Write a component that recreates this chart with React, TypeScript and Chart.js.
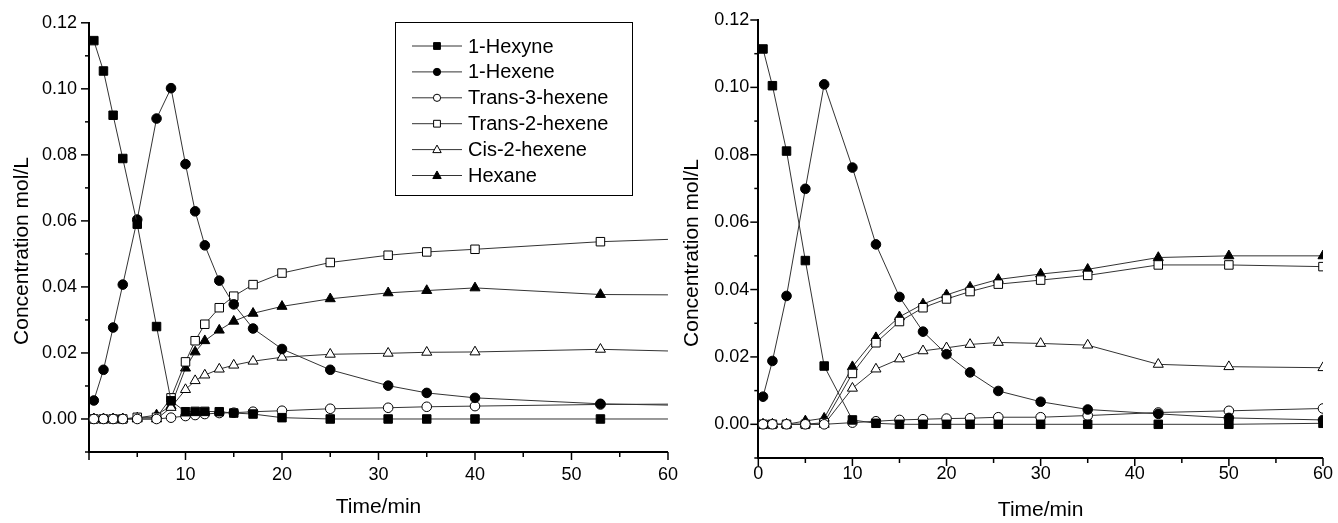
import React, { useEffect, useRef } from 'react';
import { Chart, registerables } from 'chart.js';

Chart.register(...registerables);

const FONT = '"Liberation Sans", Arial, sans-serif';

const seriesNames = ['1-Hexyne', '1-Hexene', 'Trans-3-hexene', 'Trans-2-hexene', 'Cis-2-hexene', 'Hexane'];
const pointStyles = ['rect', 'circle', 'circle', 'rect', 'triangle', 'triangle'];
const filledMarkers = [true, true, false, false, false, true];
const markerRadii = [6, 4.8, 4.8, 6, 5.8, 5.8];

// Left panel
const timeA = [0.5, 1.5, 2.5, 3.5, 5, 7, 8.5, 10, 11, 12, 13.5, 15, 17, 20, 25, 31, 35, 40, 53, 60];
const hexyneA = [0.1146, 0.1054, 0.092, 0.0789, 0.059, 0.028, 0.0055, 0.0022, 0.0023, 0.0023, 0.0022, 0.0018, 0.0015, 0.0004, 0, 0, 0, 0, 0, 0];
const hexeneA = [0.0056, 0.0149, 0.0277, 0.0407, 0.0604, 0.091, 0.1002, 0.0772, 0.0629, 0.0526, 0.0419, 0.0347, 0.0274, 0.0212, 0.0149, 0.0101, 0.0079, 0.0064, 0.0046, 0.0042];
const trans3A = [0, 0, 0, 0, 0, 0, 0.0004, 0.0009, 0.0012, 0.0015, 0.0018, 0.0019, 0.0022, 0.0025, 0.0031, 0.0034, 0.0037, 0.0039, 0.0044, 0.0045];
const trans2A = [0, 0, 0, 0, 0.0005, 0.0005, 0.0064, 0.0173, 0.0237, 0.0287, 0.0337, 0.0372, 0.0407, 0.0442, 0.0474, 0.0496, 0.0506, 0.0514, 0.0537, 0.0544];
const cis2A = [0, 0, 0, 0, 0, 0, 0.0035, 0.0089, 0.0116, 0.0133, 0.0151, 0.0163, 0.0175, 0.0187, 0.0196, 0.0199, 0.0202, 0.0203, 0.0211, 0.0206];
const hexaneA = [0, 0, 0, 0, 0.0003, 0.0012, 0.004, 0.0154, 0.0203, 0.0237, 0.0269, 0.0296, 0.032, 0.0341, 0.0364, 0.0382, 0.0389, 0.0397, 0.0377, 0.0376];

// Right panel
const timeB = [0.5, 1.5, 3, 5, 7, 10, 12.5, 15, 17.5, 20, 22.5, 25.5, 30, 35, 42.5, 50, 60];
const hexyneB = [0.1114, 0.1005, 0.0811, 0.0486, 0.0173, 0.0013, 0.0003, 0, 0, 0, 0, 0, 0, 0, 0, 0, 0.0003];
const hexeneB = [0.0082, 0.0188, 0.0381, 0.0699, 0.1009, 0.0762, 0.0534, 0.0378, 0.0275, 0.0208, 0.0154, 0.0099, 0.0067, 0.0044, 0.0031, 0.0019, 0.0013];
const trans3B = [0, 0, 0, 0, 0, 0.0005, 0.0009, 0.0013, 0.0015, 0.0017, 0.0018, 0.0021, 0.0021, 0.0026, 0.0035, 0.004, 0.0047];
const trans2B = [0, 0, 0, 0, 0.0005, 0.0151, 0.0242, 0.0305, 0.0346, 0.0372, 0.0394, 0.0416, 0.0428, 0.0442, 0.0473, 0.0473, 0.0468];
const cis2B = [0, 0, 0, 0, 0, 0.0107, 0.0164, 0.0194, 0.0218, 0.0227, 0.0237, 0.0243, 0.024, 0.0235, 0.0178, 0.0171, 0.0168];
const hexaneB = [0, 0, 0, 0.001, 0.0018, 0.0171, 0.0257, 0.0319, 0.0357, 0.0384, 0.0407, 0.043, 0.0446, 0.046, 0.0495, 0.05, 0.05];

const yTickValues = [0, 0.02, 0.04, 0.06, 0.08, 0.1, 0.12];
const xTicksA = [10, 20, 30, 40, 50, 60];
const xTicksB = [0, 10, 20, 30, 40, 50, 60];
const xTitle = 'Time/min';
const yTitle = 'Concentration mol/L';

function drawMarker(ctx: CanvasRenderingContext2D, style: string, x: number, y: number, r: number, fill: boolean) {
  ctx.beginPath();
  if (style === 'rect') {
    ctx.rect(x - r, y - r, 2 * r, 2 * r);
  } else if (style === 'circle') {
    ctx.arc(x, y, r, 0, Math.PI * 2);
  } else {
    const h = r * 1.8;
    ctx.moveTo(x, y - h * 0.6);
    ctx.lineTo(x + r, y + h * 0.4);
    ctx.lineTo(x - r, y + h * 0.4);
    ctx.closePath();
  }
  ctx.fillStyle = fill ? '#000' : '#fff';
  ctx.fill();
  ctx.lineWidth = 1;
  ctx.strokeStyle = '#000';
  ctx.stroke();
}

function makeDecor(p: any) {
  return {
    id: 'decor',
    afterDraw(chart: any) {
      const { ctx, chartArea, scales } = chart;
      const xs = scales.x;
      const ys = scales.y;
      ctx.save();
      ctx.strokeStyle = '#000';
      ctx.lineWidth = 1.5;
      // y ticks
      for (let k = -1; k <= 12; k++) {
        const py = ys.getPixelForValue(k / 100);
        const len = k % 2 === 0 ? 8 : 4;
        ctx.beginPath();
        ctx.moveTo(chartArea.left, py);
        ctx.lineTo(chartArea.left - len, py);
        ctx.stroke();
      }
      // x ticks
      for (let k = 0; k <= 12; k++) {
        const px = xs.getPixelForValue(k * 5);
        const len = k % 2 === 0 ? 8 : 5;
        ctx.beginPath();
        ctx.moveTo(px, chartArea.bottom);
        ctx.lineTo(px, chartArea.bottom + len);
        ctx.stroke();
      }
      // y title
      ctx.save();
      ctx.translate(p.yTitleX, p.yTitleY);
      ctx.rotate(-Math.PI / 2);
      ctx.fillStyle = '#000';
      ctx.font = `21px ${FONT}`;
      ctx.textAlign = 'center';
      ctx.textBaseline = 'middle';
      ctx.fillText(yTitle, 0, 0);
      ctx.restore();

      if (p.legend) {
        const bx = 395.5, by = 22.5, bw = 237, bh = 173;
        ctx.fillStyle = '#fff';
        ctx.fillRect(bx, by, bw, bh);
        ctx.lineWidth = 1;
        ctx.strokeStyle = '#000';
        ctx.strokeRect(bx, by, bw, bh);
        ctx.font = `20px ${FONT}`;
        ctx.textAlign = 'left';
        ctx.textBaseline = 'middle';
        chart.data.datasets.forEach((ds: any, i: number) => {
          const ry = 46 + i * 25.9;
          ctx.strokeStyle = '#333';
          ctx.lineWidth = 1;
          ctx.beginPath();
          ctx.moveTo(412, ry);
          ctx.lineTo(462, ry);
          ctx.stroke();
          const st = pointStyles[i];
          const r = st === 'rect' ? 3.4 : st === 'circle' ? 3.6 : 4.2;
          drawMarker(ctx, st, 437, ry, r, filledMarkers[i]);
          ctx.fillStyle = '#000';
          ctx.fillText(ds.label, 468, ry + 1);
        });
      }
      ctx.restore();
    },
  };
}

function makeConfig(p: any): any {
  const datasets = p.series.map((vals: number[], i: number) => ({
    label: seriesNames[i],
    data: p.time.map((t: number, j: number) => ({ x: t, y: vals[j] })),
    borderColor: '#333',
    borderWidth: 1,
    pointStyle: pointStyles[i],
    pointRadius: p.time.map((_t: number, j: number) =>
      p.noEndMarker && j === p.time.length - 1 ? 0 : markerRadii[i]),
    pointBackgroundColor: filledMarkers[i] ? '#000' : '#fff',
    pointBorderColor: '#000',
    pointBorderWidth: 1,
    tension: 0,
    fill: false,
  }));
  return {
    type: 'line',
    data: { datasets },
    options: {
      animation: false,
      responsive: false,
      events: [],
      layout: { padding: { top: p.padTop, right: p.padRight, left: 0, bottom: 0 } },
      plugins: { legend: { display: false }, tooltip: { enabled: false } },
      scales: {
        x: {
          type: 'linear',
          min: 0,
          max: 60,
          afterBuildTicks: (s: any) => { s.ticks = p.xTicks.map((v: number) => ({ value: v })); },
          afterFit: (s: any) => { s.height = p.xH; },
          grid: { display: false, drawTicks: false },
          border: { display: true, width: 2, color: '#000' },
          ticks: { padding: p.xPad, color: '#000', font: { family: FONT, size: 18 }, maxRotation: 0, autoSkip: false },
          title: { display: true, text: xTitle, color: '#000', font: { family: FONT, size: 21 }, padding: { top: 0, bottom: p.titlePad } },
        },
        y: {
          type: 'linear',
          min: -0.01,
          max: 0.12,
          afterBuildTicks: (s: any) => { s.ticks = yTickValues.map((v) => ({ value: v })); },
          afterFit: (s: any) => { s.width = p.yW; },
          grid: { display: false, drawTicks: false },
          border: { display: true, width: 2, color: '#000' },
          ticks: {
            padding: p.yPad, color: '#000', font: { family: FONT, size: 18 },
            callback: (v: any) => Number(v).toFixed(2),
          },
        },
      },
    },
    plugins: [makeDecor(p)],
  };
}

export default function App() {
  const leftRef = useRef<HTMLCanvasElement>(null);
  const rightRef = useRef<HTMLCanvasElement>(null);

  useEffect(() => {
    const left = new Chart(leftRef.current as HTMLCanvasElement, makeConfig({
      time: timeA,
      series: [hexyneA, hexeneA, trans3A, trans2A, cis2A, hexaneA],
      noEndMarker: true,
      xTicks: xTicksA,
      padTop: 19.5, padRight: 13, xH: 71, yW: 89, xPad: 12, yPad: 12, titlePad: 3,
      yTitleX: 22, yTitleY: 251, legend: true,
    }));
    const right = new Chart(rightRef.current as HTMLCanvasElement, makeConfig({
      time: timeB,
      series: [hexyneB, hexeneB, trans3B, trans2B, cis2B, hexaneB],
      noEndMarker: false,
      xTicks: xTicksB,
      padTop: 20, padRight: 12, xH: 65, yW: 88.3, xPad: 5, yPad: 9, titlePad: 0,
      yTitleX: 22.7, yTitleY: 253, legend: false,
    }));
    return () => { left.destroy(); right.destroy(); };
  }, []);

  return (
    <div style={{ position: 'absolute', left: 0, top: 0, width: 1338, height: 523, background: '#fff' }}>
      <canvas ref={leftRef} width={690} height={523}
        style={{ position: 'absolute', left: 0, top: 0, width: 690, height: 523 }} />
      <canvas ref={rightRef} width={668} height={523}
        style={{ position: 'absolute', left: 670, top: 0, width: 668, height: 523 }} />
    </div>
  );
}
